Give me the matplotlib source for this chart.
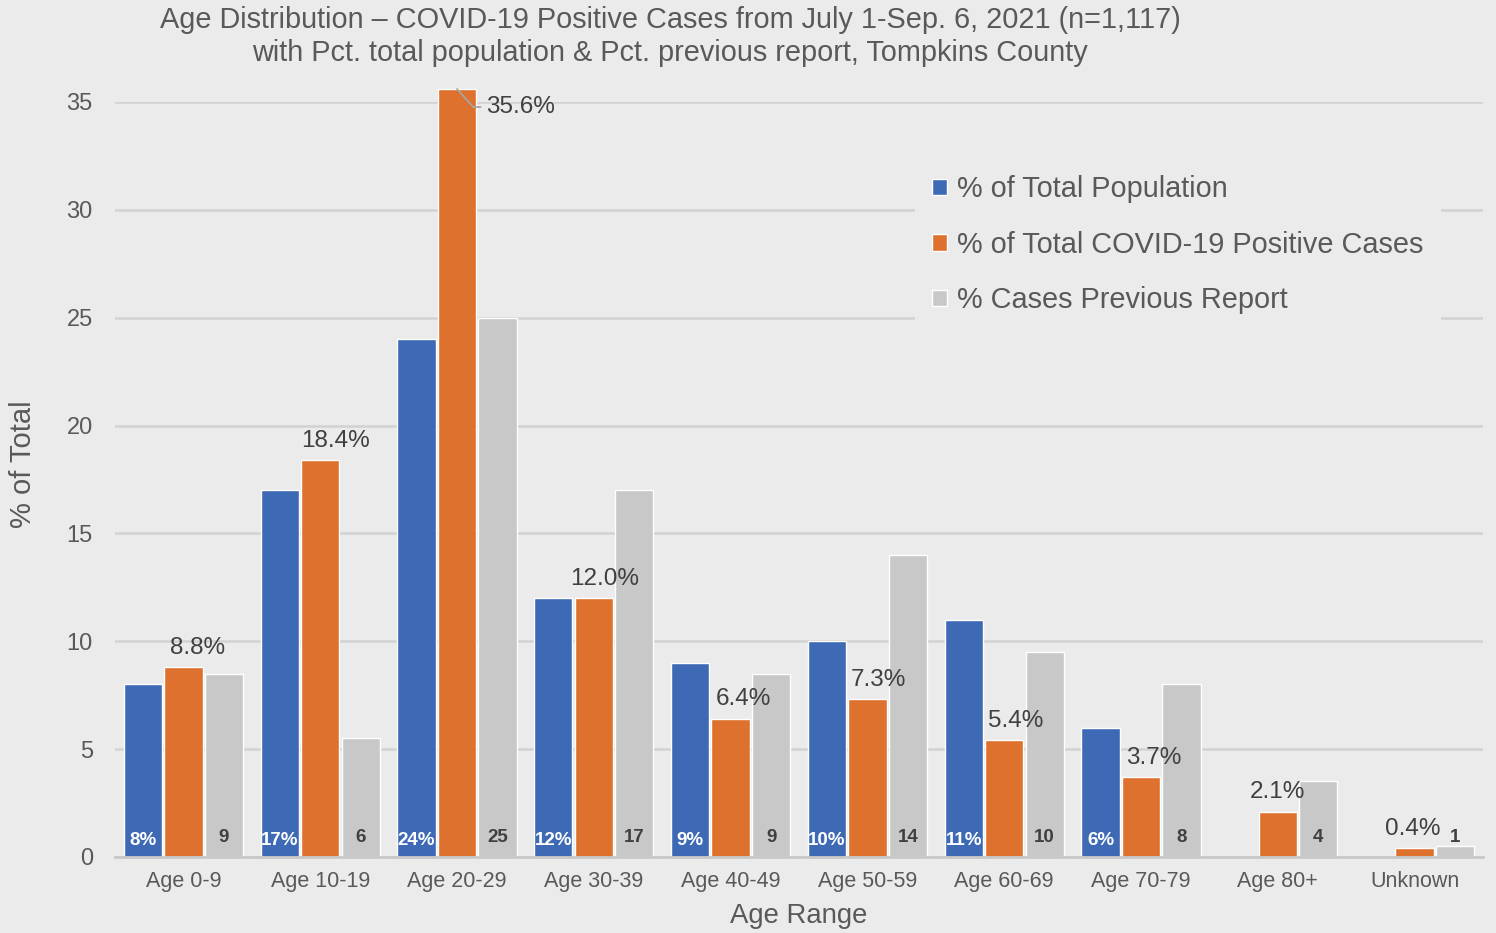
import matplotlib.pyplot as plt
import numpy as np

plt.rcParams['font.family'] = ['Liberation Sans', 'DejaVu Sans']

# Age distribution data (Tompkins County)
age_groups = ['Age 0-9', 'Age 10-19', 'Age 20-29', 'Age 30-39', 'Age 40-49',
              'Age 50-59', 'Age 60-69', 'Age 70-79', 'Age 80+', 'Unknown']
pct_population = [8, 17, 24, 12, 9, 10, 11, 6, np.nan, np.nan]
pct_cases = [8.8, 18.4, 35.6, 12.0, 6.4, 7.3, 5.4, 3.7, 2.1, 0.4]
pct_previous = [8.5, 5.5, 25, 17, 8.5, 14, 9.5, 8, 3.5, 0.5]

series_names = ['% of Total Population',
                '% of Total COVID-19 Positive Cases',
                '% Cases Previous Report']

BG = '#ebebeb'
BLUE = '#3e6ab5'
ORANGE = '#dd712d'
GRAY = '#c8c8c8'
TXT = '#595959'
DARK = '#404040'

fig = plt.figure(figsize=(14.96, 9.33), dpi=100, facecolor=BG)
ax = fig.add_axes([0.0769, 0.0815, 0.9144, 0.8092], facecolor=BG)

x = np.arange(len(age_groups))
w = 0.28
off = 0.296

ax.bar(x - off, pct_population, w, color=BLUE, edgecolor='white',
       linewidth=1, label=series_names[0], zorder=3)
ax.bar(x, pct_cases, w, color=ORANGE, edgecolor='white',
       linewidth=1, label=series_names[1], zorder=3, clip_on=False)
ax.bar(x + off, pct_previous, w, color=GRAY, edgecolor='white',
       linewidth=1, label=series_names[2], zorder=3)

ax.set_xlim(-0.5, len(age_groups) - 0.5)
ax.set_ylim(0, 35)
ax.set_yticks(range(0, 36, 5))
ax.yaxis.grid(True, color='#d2d2d2', linewidth=1.8, zorder=0)
ax.set_axisbelow(True)
for s in ['top', 'right', 'left']:
    ax.spines[s].set_visible(False)
ax.spines['bottom'].set_color('#c8c8c8')
ax.spines['bottom'].set_linewidth(2)
ax.spines['bottom'].set_zorder(4)

ax.set_xticks(x)
ax.set_xticklabels(age_groups)
ax.tick_params(axis='both', length=0, labelcolor=TXT)
ax.tick_params(axis='y', pad=16, labelsize=17)
ax.tick_params(axis='x', pad=10, labelsize=15.5)

ax.set_xlabel('Age Range', fontsize=19.8, color=TXT, labelpad=8)
ax.set_ylabel('% of Total', fontsize=21, color=TXT)
ax.yaxis.set_label_coords(-0.057, 0.52)

# small labels at the base of the population and previous-report bars
narrow = ['Liberation Sans Narrow', 'Liberation Sans', 'DejaVu Sans']
for i, v in enumerate(pct_population):
    if np.isnan(v):
        continue
    ax.annotate(f'{v:.0f}%', (x[i] - off, 0), xytext=(0, 12),
                textcoords='offset points', ha='center', va='center',
                fontsize=13.5, color='white', fontweight='bold',
                family=narrow, zorder=5)
for i, v in enumerate(pct_previous):
    ax.annotate(f'{int(v + 0.5)}', (x[i] + off, 0), xytext=(0, 14),
                textcoords='offset points', ha='center', va='center',
                fontsize=13.5, color=DARK, fontweight='bold',
                family=narrow, zorder=5)

# value labels on the case bars
label_dx = [10, 11, 0, 8, 9, 8, 8, 9, 0, -1]
for i, v in enumerate(pct_cases):
    if i == 2:
        ax.annotate(f'{v:.1f}%', (x[i], v), xytext=(21, -13),
                    textcoords='offset points', ha='left', va='center',
                    fontsize=17.5, color=DARK, zorder=5, annotation_clip=False,
                    arrowprops=dict(arrowstyle='-', color='#a6a6a6', lw=1.3,
                                    shrinkA=2, shrinkB=0,
                                    connectionstyle='angle,angleA=0,angleB=-48'))
        continue
    ax.annotate(f'{v:.1f}%', (x[i], v), xytext=(label_dx[i], 14),
                textcoords='offset points', ha='center', va='center',
                fontsize=17.5, color=DARK, zorder=5)

leg = ax.legend(loc='upper left', bbox_to_anchor=(0.602, 0.846),
                bbox_transform=fig.transFigure, fontsize=20.8,
                frameon=True, facecolor=BG, edgecolor='none', framealpha=1,
                handlelength=0.5, handleheight=0.5, handletextpad=0.35,
                labelspacing=0.95, borderpad=0.6, fancybox=False)
for t in leg.get_texts():
    t.set_color(TXT)
leg.set_zorder(4)

fig.text(0.448, 0.979, 'Age Distribution – COVID-19 Positive Cases from July 1-Sep. 6, 2021 (n=1,117)',
         ha='center', va='center', fontsize=20.8, color=TXT)
fig.text(0.448, 0.943, 'with Pct. total population & Pct. previous report, Tompkins County',
         ha='center', va='center', fontsize=20.8, color=TXT)

fig.savefig('out.png', dpi=100, facecolor=BG)
